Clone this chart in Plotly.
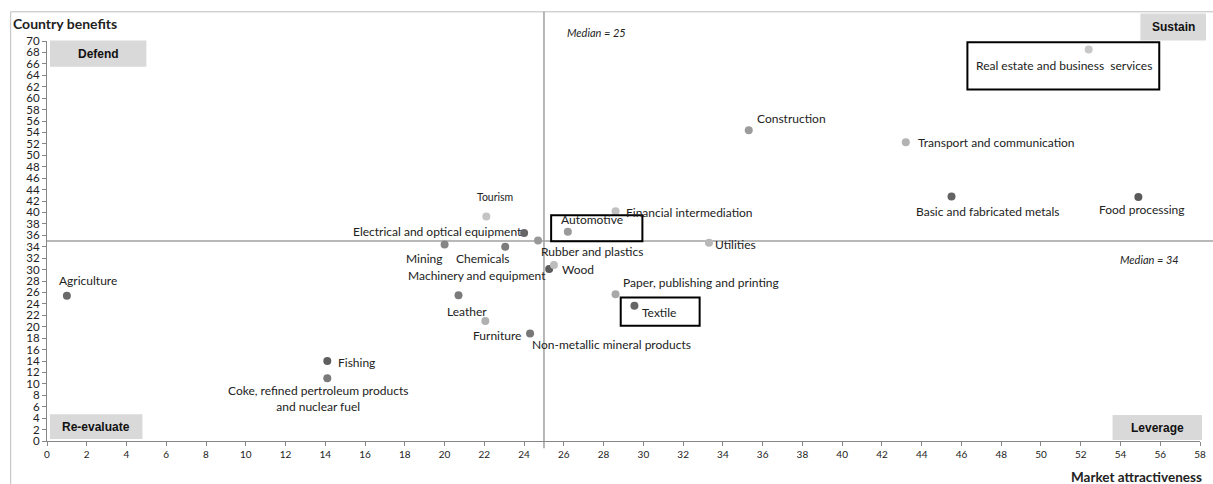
import plotly.graph_objects as go

# Sector positioning: market attractiveness (x) vs country benefits (y)
sectors = [
    "Agriculture", "Fishing", "Coke, refined pertroleum products<br>and nuclear fuel",
    "Mining", "Leather", "Tourism", "Furniture", "Chemicals",
    "Electrical and optical equipment", "Non-metallic mineral products",
    "Rubber and plastics", "Machinery and equipment", "Wood", "Automotive",
    "Paper, publishing and printing", "Financial intermediation", "Textile",
    "Utilities", "Construction", "Transport and communication",
    "Basic and fabricated metals", "Real estate and business  services",
    "Food processing",
]
market_attractiveness = [
    1.0, 14.1, 14.1, 20.0, 20.7, 22.1, 22.05, 23.05, 24.0, 24.3, 24.7,
    25.26, 25.5, 26.2, 28.6, 28.6, 29.55, 33.3, 35.3, 43.2, 45.5, 52.4, 54.9,
]
country_benefits = [
    25.4, 14.0, 11.0, 34.4, 25.5, 39.3, 21.0, 34.0, 36.4, 18.8, 35.1,
    30.1, 30.8, 36.6, 25.7, 40.2, 23.65, 34.7, 54.4, 52.3, 42.8, 68.5, 42.7,
]
median_market = 25
median_benefits_label = 34
median_benefits_line = 35

x_ticks = list(range(0, 59, 2))
y_ticks = list(range(0, 71, 2))
quadrant_names = ["Defend", "Sustain", "Re-evaluate", "Leverage"]

# Marker shades per sector
shade = {
    "Agriculture": "#6a6a6a", "Fishing": "#5f5f5f",
    "Coke, refined pertroleum products<br>and nuclear fuel": "#7a7a7a",
    "Mining": "#858585", "Leather": "#7a7a7a", "Tourism": "#c4c4c4",
    "Furniture": "#b0b0b0", "Chemicals": "#7c7c7c",
    "Electrical and optical equipment": "#666666",
    "Non-metallic mineral products": "#777777",
    "Rubber and plastics": "#999999", "Machinery and equipment": "#5c5c5c",
    "Wood": "#bdbdbd", "Automotive": "#9a9a9a",
    "Paper, publishing and printing": "#a8a8a8",
    "Financial intermediation": "#c0c0c0", "Textile": "#666666",
    "Utilities": "#b8b8b8", "Construction": "#9c9c9c",
    "Transport and communication": "#b3b3b3",
    "Basic and fabricated metals": "#636363",
    "Real estate and business  services": "#c8c8c8",
    "Food processing": "#5a5a5a",
}

# Label placement: (anchor, dx px, dy px up)
placement = {
    "Agriculture": ("center", 21, 15),
    "Fishing": ("left", 9, -1),
    "Coke, refined pertroleum products<br>and nuclear fuel": ("center", -9, -20),
    "Mining": ("center", -21, -14),
    "Leather": ("center", 8, -16),
    "Tourism": ("center", 9, 19),
    "Furniture": ("center", 12, -14),
    "Chemicals": ("center", -22, -12),
    "Electrical and optical equipment": ("right", 0, 2),
    "Non-metallic mineral products": ("left", 0, -11),
    "Rubber and plastics": ("center", 54, -11),
    "Machinery and equipment": ("right", -1, -6),
    "Wood": ("left", 6, -4),
    "Automotive": ("center", 24, 12),
    "Paper, publishing and printing": ("left", 5, 12),
    "Financial intermediation": ("left", 8, -1),
    "Textile": ("left", 6, -7),
    "Utilities": ("left", 4, -2),
    "Construction": ("left", 6, 12),
    "Transport and communication": ("left", 10, 0),
    "Basic and fabricated metals": ("center", 36, -15),
    "Real estate and business  services": ("center", -25, -16),
    "Food processing": ("center", 3, -12),
}

FONT = "Lato, 'Open Sans', sans-serif"
TEXT = "#222222"
AXIS = "#868686"

X_RANGE = (0, 58)
Y_RANGE = (0, 70)


def px(v):
    return (v - X_RANGE[0]) / (X_RANGE[1] - X_RANGE[0])


def py(v):
    return (v - Y_RANGE[0]) / (Y_RANGE[1] - Y_RANGE[0])


fig = go.Figure()
fig.add_trace(go.Scatter(
    x=market_attractiveness, y=country_benefits, mode="markers",
    marker=dict(size=8, color=[shade[s] for s in sectors], line=dict(width=0)),
    hovertext=sectors, hoverinfo="text", showlegend=False, cliponaxis=False,
))

annotations = []
for name, xv, yv in zip(sectors, market_attractiveness, country_benefits):
    anchor, dx, dy = placement[name]
    size = 10.5 if name == "Tourism" else 12
    annotations.append(dict(
        x=xv, y=yv, xref="x", yref="y", text=name, showarrow=False,
        xanchor=anchor, yanchor="middle", xshift=dx, yshift=dy, align="center",
        font=dict(family=FONT, size=size, color=TEXT),
    ))

shapes = []
# outer chart frame
shapes.append(dict(type="rect", xref="paper", yref="paper",
                   x0=-0.0315, x1=1.05, y0=-0.25, y1=1.073,
                   line=dict(color="#bdbdbd", width=1), fillcolor="rgba(0,0,0,0)",
                   layer="below"))
# median lines
shapes.append(dict(type="line", xref="x", yref="paper",
                   x0=median_market, x1=median_market, y0=-0.018, y1=1.073,
                   line=dict(color="#a0a0a0", width=1.5), layer="below"))
shapes.append(dict(type="line", xref="paper", yref="y",
                   x0=0, x1=1.02, y0=median_benefits_line, y1=median_benefits_line,
                   line=dict(color="#a0a0a0", width=1.5), layer="below"))

# quadrant tags: (label, x0, x1, y0, y1) in axis units
tags = [
    (quadrant_names[0], 0.15, 5.0, 65.5, 70.1),
    (quadrant_names[1], 55.0, 58.3, 70.1, 74.8),
    (quadrant_names[2], 0.15, 4.8, 0.35, 4.7),
    (quadrant_names[3], 53.6, 58.1, 0.17, 4.55),
]
for label, x0, x1, y0, y1 in tags:
    shapes.append(dict(type="rect", xref="paper", yref="paper",
                       x0=px(x0), x1=px(x1), y0=py(y0), y1=py(y1),
                       fillcolor="#d9d9d9", line=dict(width=0), layer="below"))
    annotations.append(dict(x=px((x0 + x1) / 2), y=py((y0 + y1) / 2),
                            xref="paper", yref="paper", text=f"<b>{label}</b>",
                            showarrow=False, xanchor="center", yanchor="middle",
                            font=dict(family="'Liberation Sans', Arial, sans-serif",
                                      size=12, color="#111111")))

# highlighted sectors
for x0, x1, y0, y1 in [(46.3, 55.95, 61.5, 69.8), (25.36, 29.95, 34.97, 39.5),
                       (28.86, 32.83, 20.16, 25.1)]:
    shapes.append(dict(type="rect", xref="x", yref="y", x0=x0, x1=x1, y0=y0, y1=y1,
                       line=dict(color="#000000", width=2), fillcolor="rgba(0,0,0,0)"))

# median captions
annotations.append(dict(x=px(26.05), y=py(71.4), xref="paper", yref="paper",
                        text=f"<i>Median = {median_market}</i>", showarrow=False,
                        xanchor="left", yanchor="middle",
                        font=dict(family=FONT, size=11, color=TEXT)))
annotations.append(dict(x=px(53.9), y=py(31.8), xref="paper", yref="paper",
                        text=f"<i>Median = {median_benefits_label}</i>", showarrow=False,
                        xanchor="left", yanchor="middle",
                        font=dict(family=FONT, size=11, color=TEXT)))

# axis titles
annotations.append(dict(x=-0.0315, y=1.045, xref="paper", yref="paper",
                        text="<b>Country benefits</b>", showarrow=False,
                        xanchor="left", yanchor="middle",
                        font=dict(family=FONT, size=14, color=TEXT)))
annotations.append(dict(x=0.886, y=-0.09, xref="paper", yref="paper",
                        text="<b>Market attractiveness</b>", showarrow=False,
                        xanchor="left", yanchor="middle",
                        font=dict(family=FONT, size=13.5, color=TEXT)))

fig.update_layout(
    width=1213, height=484,
    margin=dict(l=47, r=7, t=41, b=43),
    paper_bgcolor="white", plot_bgcolor="white",
    font=dict(family=FONT, color=TEXT),
    xaxis=dict(range=list(X_RANGE), tickvals=x_ticks, ticktext=[str(v) for v in x_ticks],
               showgrid=False, zeroline=False, showline=True, linecolor=AXIS,
               linewidth=1, ticks="outside", ticklen=4, tickcolor=AXIS,
               tickfont=dict(family=FONT, size=10, color=TEXT)),
    yaxis=dict(range=list(Y_RANGE), tickvals=y_ticks, ticktext=[str(v) for v in y_ticks],
               showgrid=False, zeroline=False, showline=True, linecolor=AXIS,
               linewidth=1, ticks="outside", ticklen=4, tickcolor=AXIS,
               tickfont=dict(family=FONT, size=11.5, color=TEXT)),
    shapes=shapes, annotations=annotations,
)

fig.write_html("out.html")
